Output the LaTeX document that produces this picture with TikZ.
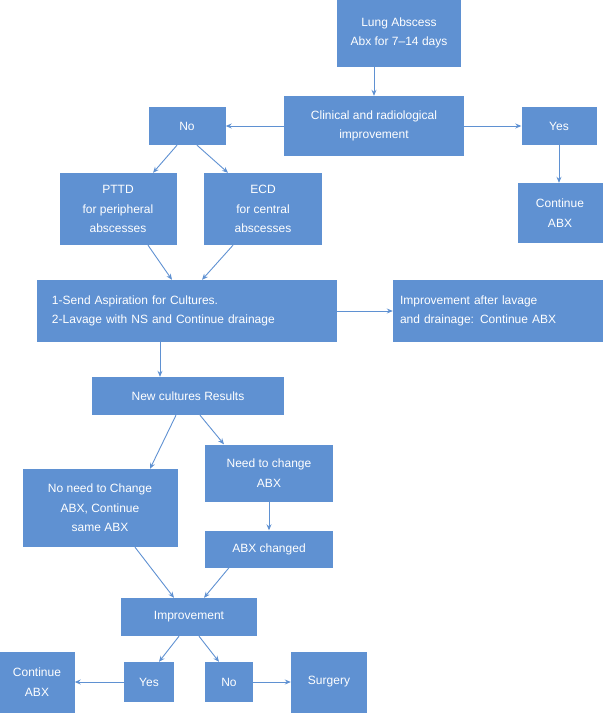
\documentclass[tikz,border=0pt]{standalone}
\usepackage{fontspec}
\setmainfont{Liberation Sans}
\usetikzlibrary{arrows.meta,positioning,calc}
\definecolor{boxblue}{RGB}{95,145,210}
\definecolor{linkblue}{RGB}{95,145,210}
\begin{document}
\begin{tikzpicture}[x=1pt, y=-1pt, font=\fontsize{12}{19.5}\selectfont]
    \tikzset{box/.style={fill=boxblue, text=white, align=center, inner sep=0pt},
             link/.style={draw=linkblue, line width=0.9pt, -{Stealth[length=6pt,width=5pt]}}}
    \useasboundingbox (0,0) rectangle (604,713);

    % top part
    \node[box, minimum width=124, minimum height=67] (abscess) at (399,33) {Lung Abscess\\Abx for 7--14 days};
    \node[box, minimum width=180, minimum height=60] (clinical) at (374,126) {Clinical and radiological\\improvement};
    \node[box, minimum width=77, minimum height=38] (no) at (187,126) {No};
    \node[box, minimum width=75, minimum height=38] (yes) at (559,126) {Yes};
    \node[box, minimum width=85, minimum height=60] (contright) at (560,213) {Continue\\ABX};
    \node[box, minimum width=117, minimum height=72] (pttd) at (118,209) {PTTD\\for peripheral\\abscesses};
    \node[box, minimum width=118, minimum height=72] (ecd) at (263,209) {ECD\\for central\\abscesses};

    % drainage
    \node[box, minimum width=300, minimum height=62, align=left, text width=270] (send) at (187,311) {1-Send Aspiration for Cultures.\\2-Lavage with NS and Continue drainage};
    \node[box, minimum width=210, minimum height=62, align=left, text width=196] (lavage) at (498,311) {Improvement after lavage\\and drainage: Continue ABX};
    \node[box, minimum width=192, minimum height=38] (cultures) at (188,396) {New cultures Results};

    % cultures
    \node[box, minimum width=128, minimum height=57] (needchange) at (269,473) {Need to change\\ABX};
    \node[box, minimum width=155, minimum height=78] (noneed) at (100,508) {No need to Change\\ABX, Continue\\same ABX};
    \node[box, minimum width=128, minimum height=37] (changed) at (269,549) {ABX changed};
    \node[box, minimum width=136, minimum height=38] (improve) at (189,617) {Improvement};

    % bottom row
    \node[box, minimum width=75, minimum height=61] (contleft) at (37,682) {Continue\\ABX};
    \node[box, minimum width=50, minimum height=40] (yesb) at (149,682) {Yes};
    \node[box, minimum width=48, minimum height=40] (nob) at (229,682) {No};
    \node[box, minimum width=76, minimum height=61] (surgery) at (329,682) {Surgery};

    \draw[link] (abscess.south -| clinical) -- (clinical.north);
    \draw[link] (clinical.west) -- (no.east);
    \draw[link] (clinical.east) -- (yes.west);
    \draw[link] (yes.south) -- (contright.north -| yes);
    \draw[link] ($(no.south)+(-10,0)$) -- ($(pttd.north)+(35,0)$);
    \draw[link] ($(no.south)+(10,0)$) -- ($(ecd.north)+(-35,0)$);
    \draw[link] ($(pttd.south)+(30,0)$) -- ($(send.north)+(-15,0)$);
    \draw[link] ($(ecd.south)+(-30,0)$) -- ($(send.north)+(15,0)$);
    \draw[link] (send.east) -- (lavage.west);
    \draw[link] ($(send.south)+(-27,0)$) -- ($(cultures.north)+(-28,0)$);
    \draw[link] ($(cultures.south)+(-12,0)$) -- ($(noneed.north)+(50,0)$);
    \draw[link] ($(cultures.south)+(12,0)$) -- ($(needchange.north)+(-45,0)$);
    \draw[link] (needchange.south) -- (changed.north);
    \draw[link] ($(noneed.south)+(35,0)$) -- ($(improve.north)+(-15,0)$);
    \draw[link] ($(changed.south)+(-40,0)$) -- ($(improve.north)+(15,0)$);
    \draw[link] ($(improve.south)+(-10,0)$) -- ($(yesb.north)+(10,0)$);
    \draw[link] ($(improve.south)+(10,0)$) -- ($(nob.north)+(-10,0)$);
    \draw[link] (yesb.west) -- (contleft.east);
    \draw[link] (nob.east) -- (surgery.west);
\end{tikzpicture}
\end{document}
